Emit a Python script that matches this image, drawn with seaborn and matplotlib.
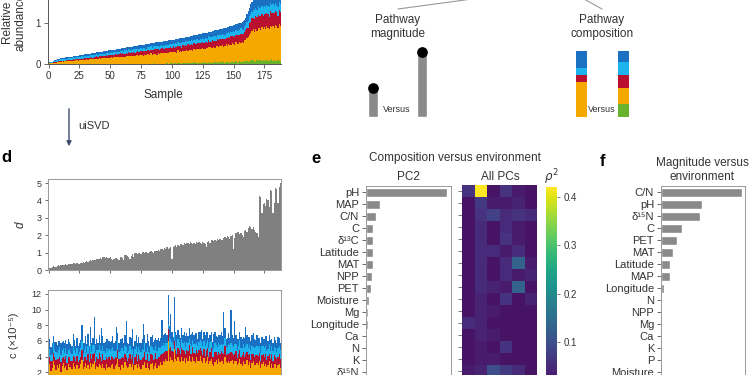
import numpy as np
import pandas as pd
import matplotlib
matplotlib.use('Agg')
import matplotlib.pyplot as plt
import seaborn as sns
from matplotlib.lines import Line2D
from matplotlib.patches import FancyArrowPatch


def nums(s):
    return np.array(s.split(), dtype=float)


# Muestras (0..188)
sample = np.arange(189)

# Abundancia relativa: total (centesimas) y reparto por ruta (%)
ab_total = nums("""
3 4 5 6 8 9 10 11 12 13 14 14 15 15 16 16 17 17 18 18 19 19 20 20 20
21 21 22 22 23 23 24 24 25 25 26 26 27 27 28 28 29 29 30 30 31 31 32 32 33
33 34 34 35 35 36 36 37 37 38 38 39 39 40 40 41 41 42 42 43 43 44 44 45 45
46 46 47 47 48 48 49 49 50 50 51 51 52 52 53 53 54 54 55 55 56 56 57 57 58
58 59 59 60 60 61 62 62 63 63 64 65 65 66 66 67 68 68 69 70 70 71 72 72 73
74 74 75 76 76 77 78 78 79 80 81 81 82 83 84 84 85 86 87 88 89 90 91 92 93
94 95 96 97 98 99 100 101 103 106 112 120 128 136 144 150 155 158 160 161 162 163 164 165 166
167 168 168 169 170 170 171 172 172 173 174 174 175 176
""")
ab_green = nums("""
0 0 0 0 0 0 0 0 0 0 0 0 0 0 0 0 0 0 0 0 0 0 0 0 0
0 0 0 0 0 0 0 0 0 0 0 0 0 0 0 0 0 0 0 0 0 0 0 0 0
0 0 0 0 0 0 0 0 0 0 0 0 0 0 0 1 0 0 0 0 1 0 0 1 0
1 0 2 0 1 0 0 2 1 0 1 3 0 1 2 0 1 2 1 0 2 3 1 2 3
3 2 4 3 2 5 3 4 2 3 5 4 3 2 4 5 3 4 6 3 4 5 3 4 5
4 6 3 5 4 7 5 4 6 3 5 7 4 5 6 4 8 5 4 6 5 7 4 6 5
6 5 8 4 6 7 5 6 8 5 7 6 4 6 5 7 6 5 4 6 5 7 6 5 6
5 7 6 4 6 5 7 5 6 4 5 6 5 4
""")
ab_orange = nums("""
30 35 38 40 42 38 36 44 40 38 42 45 40 43 41 39 44 42 40 45 43 41 46 44 42
45 43 47 44 40 46 48 42 45 47 44 49 46 43 48 45 50 47 44 49 46 42 48 45 47
44 49 46 50 43 47 45 51 48 44 50 47 42 49 46 52 48 45 50 47 43 51 48 46 49
46 50 38 48 45 51 47 44 50 46 49 52 45 48 51 47 44 50 48 53 46 49 52 47 50
48 52 47 50 45 53 49 51 47 54 50 48 52 46 51 55 49 47 53 50 48 52 55 49 51
53 50 47 52 49 55 51 48 53 50 46 54 52 49 51 56 50 47 53 51 49 54 52 48 55
52 49 54 51 47 55 50 53 48 52 56 50 54 49 52 55 51 48 53 50 54 52 49 55 51
53 50 55 52 48 54 51 53 50 56 52 49 54 51
""")
ab_red = nums("""
10 12 8 14 11 9 13 10 15 12 9 14 11 13 10 16 12 9 14 11 15 12 10 13 16
14 17 12 15 19 13 16 18 14 20 15 12 18 16 21 14 17 19 15 22 16 13 20 18 15
19 16 21 14 18 22 17 15 20 18 23 16 19 21 15 24 18 20 17 22 19 16 23 20 18
21 18 24 19 16 22 20 25 18 21 17 23 20 26 19 22 18 24 21 17 23 20 25 19 22
20 24 18 22 26 19 23 21 17 25 20 22 18 24 21 19 26 22 20 23 18 25 21 19 24
22 19 25 21 18 24 20 23 26 19 22 18 25 21 20 23 19 24 22 17 25 21 19 23 20
21 24 19 22 25 18 23 20 22 19 24 21 18 23 20 25 19 22 21 24 20 18 23 21 22
19 23 20 22 18 24 21 19 23 20 22 18 21 20
""")
ab_lblue = nums("""
35 30 32 28 30 33 29 27 30 31 28 26 29 27 28 25 27 29 26 24 27 25 26 24 25
24 22 25 23 21 24 22 20 23 21 22 20 21 19 22 20 18 21 19 20 18 21 17 19 20
18 20 17 19 16 18 20 17 15 19 16 18 20 15 17 19 16 14 18 16 17 19 15 17 16
17 15 18 16 14 17 15 18 16 14 17 15 13 16 18 15 17 14 16 15 13 17 15 16 14
16 14 17 15 13 16 14 15 17 13 15 16 14 13 15 17 14 16 13 15 16 14 12 15 14
14 16 13 15 14 12 15 16 13 14 15 13 12 15 14 13 16 14 12 15 13 14 15 13 12
14 13 15 12 14 13 15 14 12 13 14 12 15 13 14 11 13 14 12 13 15 14 12 13 14
13 12 14 13 15 12 13 14 12 13 11 14 13 12
""")
ab_dblue = nums("""
25 23 22 18 17 20 22 19 15 19 21 15 20 17 21 20 17 20 20 20 15 22 18 19 17
18 20 16 19 21 17 15 20 18 16 19 21 17 20 15 18 22 16 19 17 21 18 15 20 17
19 16 21 17 15 20 18 22 16 19 17 21 15 18 20 16 19 17 22 15 18 20 16 19 17
17 20 15 19 22 16 18 20 15 21 17 19 16 20 18 22 15 19 17 21 16 18 20 15 19
18 16 21 17 19 15 20 18 22 16 19 17 20 15 18 21 16 19 17 20 15 18 22 16 19
17 20 16 19 21 15 18 17 20 16 19 22 15 18 17 20 16 19 21 15 18 17 20 16 19
18 21 16 19 17 20 15 18 22 16 19 17 21 15 18 20 16 19 17 21 15 18 20 16 19
17 20 16 19 21 15 18 17 20 16 19 22 15 18
""")

# Magnitud d por muestra
d_mag = nums("""
0.10 0.12 0.13 0.15 0.22 0.20 0.18 0.25 0.27 0.24 0.28 0.30 0.29 0.31 0.32 0.30 0.33 0.35 0.34 0.36 0.38 0.40 0.37 0.39 0.36
0.35 0.40 0.42 0.45 0.43 0.48 0.50 0.47 0.52 0.55 0.53 0.58 0.60 0.57 0.62 0.65 0.63 0.68 0.66 0.72 0.75 0.70 0.74 0.71 0.69
0.72 0.66 0.60 0.64 0.70 0.67 0.62 0.58 0.72 0.75 0.68 0.60 0.85 0.88 0.82 0.75 0.65 0.78 0.90 0.72 0.95 0.98 0.92 1.00 0.96
0.90 1.02 1.05 0.98 1.03 1.00 0.96 1.05 1.08 1.02 0.98 1.10 1.07 1.12 1.15 1.08 1.20 1.18 1.14 1.25 1.20 1.30 1.22 1.28 1.35
0.62 1.30 1.38 1.42 1.35 1.45 1.40 1.48 1.52 1.45 1.55 1.50 1.58 1.54 1.48 1.60 1.55 1.52 1.58 1.50 1.62 1.56 1.60 1.55 1.48
1.60 1.58 1.50 1.30 1.62 1.65 1.58 1.70 1.75 1.68 1.72 1.65 1.78 1.72 1.80 1.75 1.70 1.85 1.90 1.82 1.95 1.88 1.80 1.98 2.00
1.20 1.85 2.10 2.20 2.18 2.05 2.15 2.00 1.90 2.25 2.30 2.20 2.40 2.55 2.45 2.35 2.50 2.30 2.20 2.10 1.90 4.25 4.20 3.30 3.80
3.85 3.70 4.10 4.05 3.60 4.60 4.55 3.30 3.85 4.70 4.65 3.85 4.75 5.00
""")

# Composicion c por muestra (decimas de 1e-5)
c_green = nums("""
5 6 4 5 6 5 4 6 5 5 4 6 5 6 4 5 5 6 4 5 6 5 4 5 6
4 5 6 5 4 6 5 5 6 4 5 6 4 5 5 6 4 5 6 5 4 5 6 5 4
6 5 4 5 6 4 5 6 5 4 6 5 5 4 6 5 4 6 5 5 6 4 5 6 5
5 4 6 5 5 6 4 5 6 5 4 5 6 5 4 6 5 5 4 6 5 6 5 4 5
6 5 5 4 6 5 4 6 5 5 6 4 5 6 5 4 6 5 5 4 6 5 4 6 5
4 6 5 5 6 4 5 6 5 4 5 6 4 5 6 5 4 6 5 5 6 4 5 6 5
5 6 4 5 5 6 4 5 6 5 4 6 5 5 4 6 5 4 6 5 5 6 4 5 6
5 4 6 5 6 4 5 5 6 4 5 6 5 4
""")
c_orange = nums("""
22 25 18 20 28 24 19 23 21 26 17 22 27 20 24 18 25 21 23 19 26 22 20 24 18
21 25 30 19 23 26 20 24 18 28 22 25 30 19 23 21 27 24 20 26 22 18 25 21 23
20 24 27 19 22 26 32 21 18 25 23 20 28 24 19 22 26 21 25 18 23 27 20 24 22
19 25 23 28 21 26 22 18 24 27 20 23 26 21 25 22 28 24 30 27 32 29 55 31 35
30 28 45 33 29 35 31 27 34 30 32 28 33 29 36 31 27 34 30 28 33 29 31 35 30
28 32 27 30 34 26 29 31 25 24 28 30 26 32 27 29 31 25 34 28 26 30 27 29 31
25 28 30 24 27 31 26 23 29 25 27 30 24 28 22 26 29 25 23 27 24 28 22 25 27
23 26 21 24 28 22 25 20 24 27 21 23 26 22
""")
c_red = nums("""
10 8 12 9 11 10 13 8 11 9 12 10 8 11 13 9 10 12 8 11 9 13 10 12 9
11 9 13 10 12 8 11 14 9 12 10 13 11 9 12 10 14 11 9 12 10 13 8 11 12
10 12 9 13 11 8 12 10 14 9 11 13 10 12 9 11 14 10 12 8 11 13 9 12 10
12 9 11 13 10 12 8 11 14 10 12 9 13 11 10 12 9 14 11 13 10 12 15 15 12
11 13 10 12 9 11 14 10 12 13 9 11 10 12 14 9 11 13 10 12 9 11 13 10 12
10 12 9 13 11 10 12 14 9 11 13 10 12 9 11 13 10 12 14 9 11 10 13 11 9
12 10 13 9 11 12 10 14 11 9 12 10 13 11 10 12 9 11 13 10 12 11 9 12 10
11 13 9 12 10 11 13 10 12 9 11 10 12 11
""")
c_lblue = nums("""
9 11 8 10 12 9 10 8 11 12 9 10 11 8 10 12 9 11 10 8 12 9 11 10 9
10 12 11 9 10 13 9 11 10 12 9 11 10 12 9 11 10 8 12 10 11 9 12 10 11
11 9 12 10 8 11 12 9 10 13 11 9 10 12 11 9 10 12 8 11 10 9 12 10 11
10 12 9 11 10 8 12 11 9 10 12 11 9 10 13 11 9 10 12 8 11 10 5 15 11
12 9 10 11 9 12 10 8 11 10 12 9 11 10 8 12 10 9 11 12 10 9 11 10 12
11 10 12 9 10 11 13 9 10 12 11 9 10 12 11 9 10 13 11 10 9 12 10 11 10
10 12 9 11 10 12 11 9 10 12 11 10 9 11 12 10 9 11 10 12 11 9 10 12 11
12 10 11 9 12 10 11 12 10 11 9 12 10 11
""")
c_dblue = nums("""
8 12 10 14 9 11 13 10 12 8 15 11 9 13 10 12 14 9 11 10 16 12 9 13 11
12 10 20 14 9 13 11 15 10 22 12 9 36 11 14 10 12 9 29 13 11 14 12 15 10
12 10 14 11 13 29 9 12 15 11 13 10 14 33 12 9 11 15 25 12 10 14 11 13 9
11 13 33 10 12 17 14 9 12 15 11 13 10 14 12 9 13 34 11 15 12 10 38 14 31
13 10 46 12 14 11 9 13 15 10 12 14 11 9 13 12 15 10 11 14 12 9 13 11 15
10 12 14 15 11 13 9 12 10 18 14 11 13 10 12 15 11 41 13 10 12 14 9 42 12
12 29 11 13 10 10 14 12 9 13 24 11 14 10 12 13 18 11 9 14 12 10 13 11 9
11 13 19 10 12 14 9 11 13 10 12 14 11 10
""")

# Variables ambientales
env_e = ['pH', 'MAP', 'C/N', 'C', 'δ¹³C', 'Latitude', 'MAT', 'NPP', 'PET', 'Moisture',
         'Mg', 'Longitude', 'Ca', 'N', 'K', 'δ¹⁵N', 'P']
pc2_rho2 = [0.41, 0.07, 0.05, 0.035, 0.035, 0.033, 0.033, 0.03, 0.024, 0.013,
            0.01, 0.008, 0.005, 0.005, 0.003, 0.003, 0.002]
pcs = ['PC1', 'PC2', 'PC3', 'PC4', 'PC5', 'PC6']
all_pcs_rho2 = [
    [0.06, 0.42, 0.02, 0.06, 0.03, 0.02],
    [0.02, 0.07, 0.03, 0.03, 0.04, 0.02],
    [0.02, 0.06, 0.08, 0.05, 0.06, 0.05],
    [0.02, 0.05, 0.02, 0.05, 0.03, 0.02],
    [0.02, 0.05, 0.02, 0.06, 0.03, 0.02],
    [0.02, 0.05, 0.05, 0.03, 0.05, 0.02],
    [0.02, 0.05, 0.02, 0.05, 0.13, 0.03],
    [0.02, 0.05, 0.02, 0.05, 0.03, 0.04],
    [0.02, 0.05, 0.04, 0.03, 0.13, 0.02],
    [0.02, 0.04, 0.02, 0.06, 0.02, 0.04],
    [0.02, 0.04, 0.03, 0.02, 0.02, 0.02],
    [0.05, 0.04, 0.02, 0.02, 0.02, 0.02],
    [0.02, 0.04, 0.03, 0.02, 0.02, 0.02],
    [0.02, 0.03, 0.02, 0.06, 0.02, 0.02],
    [0.02, 0.03, 0.03, 0.02, 0.02, 0.02],
    [0.03, 0.04, 0.10, 0.07, 0.05, 0.02],
    [0.02, 0.04, 0.02, 0.03, 0.02, 0.02],
]
env_f = ['C/N', 'pH', 'δ¹⁵N', 'C', 'PET', 'MAT', 'Latitude', 'MAP', 'Longitude', 'N',
         'NPP', 'Mg', 'Ca', 'K', 'P', 'Moisture', 'δ¹³C']
mag_rho2 = [0.27, 0.137, 0.13, 0.07, 0.053, 0.04, 0.03, 0.03, 0.01, 0.004,
            0.004, 0.003, 0.002, 0.0015, 0.001, 0.0008, 0.0005]

# Esquema
demo_magnitude = [1.0, 2.24]
demo_comp_a = [0, 35, 7, 7, 17]
demo_comp_b = [13, 16, 13, 13, 11]

pal = ['#68b22c', '#f5a800', '#b8102e', '#1bb4ee', '#1a70c2']
bar_grey = '#8a8a8a'
txt = '#333333'

sns.set_theme(style='ticks')
plt.rcParams['font.family'] = ['Liberation Sans', 'DejaVu Sans']
plt.rcParams['text.color'] = txt
plt.rcParams['axes.labelcolor'] = txt
plt.rcParams['xtick.color'] = '#555555'
plt.rcParams['ytick.color'] = '#555555'
plt.rcParams['xtick.labelcolor'] = txt
plt.rcParams['ytick.labelcolor'] = txt

W, H = 750, 375


def box(l, t, r, b):
    return [l / W, 1 - b / H, (r - l) / W, (b - t) / H]


fig = plt.figure(figsize=(7.5, 3.75), dpi=100)


def label(x, y, s, **kw):
    kw.setdefault('ha', 'center')
    kw.setdefault('va', 'center')
    fig.text(x / W, 1 - y / H, s, **kw)


edges = np.arange(190) - 0.5
xt = np.arange(0, 176, 25)

# Abundancia relativa apilada
ax_a = fig.add_axes(box(48, -27, 281, 64))
shares = np.vstack([ab_green, ab_orange, ab_red, ab_lblue, ab_dblue])
layers = shares / shares.sum(axis=0) * ab_total / 100
base = np.zeros(len(sample))
for layer, col in zip(layers, pal):
    ax_a.stairs(base + layer, edges, baseline=base, fill=True, color=col, lw=0)
    base = base + layer
ax_a.set_xlim(-0.5, 188.5)
ax_a.set_ylim(0, 2.2)
ax_a.set_yticks([0, 1, 2])
ax_a.set_xticks(xt)
sns.despine(ax=ax_a)
for sp in ['left', 'bottom']:
    ax_a.spines[sp].set_color('#555555')
    ax_a.spines[sp].set_linewidth(0.7)
ax_a.tick_params(labelsize=7, length=3, width=0.6, pad=2)
label(163, 95, 'Sample', fontsize=8.5)
label(14, 22, 'Relative\nabundance', fontsize=8.5, rotation=90, linespacing=1.15)

# Flecha uiSVD
fig.add_artist(FancyArrowPatch((69 / W, 1 - 106 / H), (69 / W, 1 - 149 / H),
                               transform=fig.transFigure, arrowstyle='-|>',
                               mutation_scale=7, color='#3d4b6e', lw=1.0))
label(78, 126, 'uiSVD', fontsize=8, ha='left')

# Panel d
ax_d = fig.add_axes(box(48, 179, 281, 270))
ax_d.stairs(d_mag, edges, fill=True, color='#808080', lw=0)
ax_d.set_xlim(-0.5, 188.5)
ax_d.set_ylim(0, 5.23)
ax_d.set_yticks(range(6))
ax_d.set_xticks(xt)
ax_d.set_xticklabels([])
ax_d.tick_params(labelsize=6.5, length=2.5, width=0.6, pad=2)
for sp in ax_d.spines.values():
    sp.set_color('#999999')
    sp.set_linewidth(0.7)
label(21, 225, 'd', fontsize=8.5, rotation=90, style='italic')
label(6, 158, 'd', fontsize=12, fontweight='bold', color='black')

# Composicion c
ax_c = fig.add_axes(box(48, 290, 281, 388))
c_layers = np.vstack([c_green, c_orange, c_red, c_lblue, c_dblue]) / 10
base = np.zeros(len(sample))
for layer, col in zip(c_layers, pal):
    ax_c.stairs(base + layer, edges, baseline=base, fill=True, color=col, lw=0)
    base = base + layer
ax_c.set_xlim(-0.5, 188.5)
ax_c.set_ylim(0, 12.5)
ax_c.set_yticks(range(0, 13, 2))
ax_c.set_xticks(xt)
ax_c.set_xticklabels([])
ax_c.tick_params(labelsize=6.5, length=2.5, width=0.6, pad=2)
for sp in ax_c.spines.values():
    sp.set_color('#999999')
    sp.set_linewidth(0.7)
label(14, 335, 'c (×10⁻⁵)', fontsize=8, rotation=90)

# Panel e: PC2
ax_e = fig.add_axes(box(366, 186, 451, 390))
sns.barplot(x=pc2_rho2, y=env_e, orient='h', color=bar_grey, saturation=1,
            width=0.75, ax=ax_e)
ax_e.set_xlim(0, 0.43)
ax_e.set_xticks([])
ax_e.set_xlabel('')
ax_e.set_ylabel('')
ax_e.tick_params(axis='y', labelsize=8, length=3, width=0.6, pad=2)
for sp in ax_e.spines.values():
    sp.set_visible(True)
    sp.set_color('#999999')
    sp.set_linewidth(0.7)

# Mapa de calor de todas las PC
ax_h = fig.add_axes(box(462, 185, 537, 389))
ax_cb = fig.add_axes(box(546, 187, 557, 391))
hm = pd.DataFrame(all_pcs_rho2, index=env_e, columns=pcs)
sns.heatmap(hm, ax=ax_h, cbar_ax=ax_cb, cmap='viridis', vmin=0, vmax=0.42,
            xticklabels=False, yticklabels=False,
            cbar_kws={'ticks': [0.1, 0.2, 0.3, 0.4]})
ax_h.set_yticks(np.arange(len(env_e)) + 0.5)
ax_h.set_yticklabels([])
ax_h.tick_params(axis='y', left=True, length=3, width=0.6, color='#666666')
ax_h.collections[0].colorbar.outline.set_visible(False)
ax_cb.tick_params(labelsize=7, length=2.5, width=0.6, pad=2, color='#666666')

label(316, 159, 'e', fontsize=12, fontweight='bold', color='black')
label(455, 158, 'Composition versus environment', fontsize=8.5)
label(408, 177, 'PC2', fontsize=8.5)
label(500, 177, 'All PCs', fontsize=8.5)
label(551, 177, r'$\rho^2$', fontsize=8.5)

# Panel f: magnitud
ax_f = fig.add_axes(box(661, 186, 745, 390))
sns.barplot(x=mag_rho2, y=env_f, orient='h', color=bar_grey, saturation=1,
            width=0.75, ax=ax_f)
ax_f.set_xlim(0, 0.28)
ax_f.set_xticks([])
ax_f.set_xlabel('')
ax_f.set_ylabel('')
ax_f.tick_params(axis='y', labelsize=8, length=3, width=0.6, pad=2)
for sp in ax_f.spines.values():
    sp.set_visible(True)
    sp.set_color('#999999')
    sp.set_linewidth(0.7)
label(603, 162, 'f', fontsize=12, fontweight='bold', color='black')
label(702, 170, 'Magnitude versus\nenvironment', fontsize=8.5, linespacing=1.15)

# Esquema: magnitud
ax_m = fig.add_axes(box(348, 40, 447, 117))
ax_m.bar([0, 1], demo_magnitude, width=0.2, color=bar_grey)
ax_m.scatter([0, 1], demo_magnitude, s=45, color='black', zorder=3, clip_on=False)
ax_m.set_xlim(-0.5, 1.5)
ax_m.set_ylim(0, 2.655)
ax_m.axis('off')
label(397, 110, 'Versus', fontsize=6.5)
label(398, 27, 'Pathway\nmagnitude', fontsize=8.5, linespacing=1.2)

# Esquema: composicion
ax_p = fig.add_axes(box(560, 51, 645, 117))
for xpos, comp in zip([0, 1], [demo_comp_a, demo_comp_b]):
    frac = np.array(comp, dtype=float) / sum(comp)
    bottom = 0.0
    for f, col in zip(frac, pal):
        ax_p.bar(xpos, f, bottom=bottom, width=0.26, color=col, lw=0)
        bottom += f
ax_p.set_xlim(-0.5, 1.5)
ax_p.set_ylim(0, 1)
ax_p.axis('off')
label(602, 110, 'Versus', fontsize=6.5)
label(602, 27, 'Pathway\ncomposition', fontsize=8.5, linespacing=1.2)

# Lineas del arbol
fig.add_artist(Line2D([398 / W, 472 / W], [1 - 9 / H, 1 + 1 / H], color='#999999', lw=0.8))
fig.add_artist(Line2D([584 / W, 602 / W], [1 + 1 / H, 1 - 9 / H], color='#999999', lw=0.8))

fig.savefig('out.png', dpi=100, facecolor='white')
